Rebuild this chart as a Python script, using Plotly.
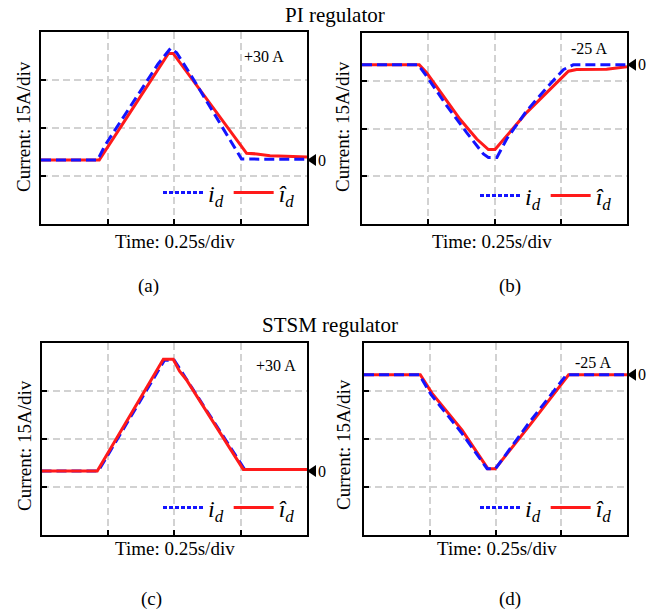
import plotly.graph_objects as go

# ---------------- data: time in s, current in A ----------------
# (a) PI regulator, +30 A step
pi_pos_t_id = [0, 0.213, 0.24, 0.44, 0.487, 0.50, 0.51, 0.56, 0.65, 0.754, 1.0]
pi_pos_id = [0, 0, 4.5, 30.0, 34.9, 34.0, 33.5, 27.0, 14.5, 0.3, 0.2]
pi_pos_t_est = [0, 0.219, 0.337, 0.479, 0.497, 0.60, 0.673, 0.773, 0.811, 0.835, 0.861, 0.92, 1.0]
pi_pos_est = [0, 0, 15.1, 33.3, 33.3, 21.7, 13.4, 2.1, 1.9, 1.5, 1.3, 1.2, 0.9]

# (b) PI regulator, -25 A step
pi_neg_t_id = [0, 0.212, 0.244, 0.32, 0.395, 0.458, 0.477, 0.509, 0.546, 0.621, 0.697, 0.76, 0.797, 1.0]
pi_neg_id = [0, 0, -3.6, -12.9, -21.3, -28.0, -29.1, -29.1, -23.3, -14.5, -7.2, -1.5, 0, 0]
pi_neg_t_est = [0, 0.216, 0.244, 0.307, 0.37, 0.433, 0.477, 0.502, 0.558, 0.621, 0.697, 0.747, 0.779, 0.81, 0.923, 1.0]
pi_neg_est = [0, 0, -2.5, -9.8, -17.1, -23.3, -26.6, -26.6, -21.2, -15.0, -8.75, -4.6, -2.0, -1.5, -1.4, -0.6]

# (c) STSM regulator, +30 A step
st_pos_t_id = [0, 0.214, 0.463, 0.50, 0.765, 1.0]
st_pos_id = [0, 0, 34.6, 34.6, 0.5, 0.5]
st_pos_t_est = [0, 0.21, 0.459, 0.496, 0.52, 0.545, 0.76, 1.0]
st_pos_est = [0, 0, 34.9, 34.9, 31.2, 28.6, 0.5, 0.5]

# (d) STSM regulator, -25 A step
st_neg_t_id = [0, 0.21, 0.255, 0.37, 0.468, 0.50, 0.62, 0.77, 1.0]
st_neg_id = [0, 0, -6.2, -18.0, -29.3, -29.3, -15.8, 0, 0]
st_neg_t_est = [0, 0.214, 0.259, 0.373, 0.471, 0.499, 0.626, 0.778, 1.0]
st_neg_est = [0, 0, -5.8, -17.3, -29.3, -29.3, -16.2, 0, 0]

step_labels = ["+30 A", "-25 A", "+30 A", "-25 A"]
panel_tags = ["(a)", "(b)", "(c)", "(d)"]
group_titles = ["PI regulator", "STSM regulator"]
x_label = "Time: 0.25s/div"
y_label = "Current: 15A/div"
zero_label = "0"


def symbol_name(base):
    # italic current symbol with an italic subscript d
    return ('<span style="font-style:italic;font-size:24px">' + base + '</span>'
            '<sub><span style="font-style:italic;font-size:17px">d</span></sub>')


id_name = symbol_name("i")
est_name = symbol_name("î")

BLUE = "#1414ff"
RED = "#ff1a1a"
FONT = "Liberation Serif, Times New Roman, serif"
W, H = 660, 614


def px_x(p):
    return p / W


def px_y(p):
    return 1 - p / H


panels = [
    dict(tid=pi_pos_t_id, id=pi_pos_id, test=pi_pos_t_est, est=pi_pos_est,
         yr=[-20, 40], dom_x=[41, 307], dom_y=[224, 32], red_top=False,
         lab=(263.5, 56), tag=(148, 286), xl=(175, 241.7), yl=(24, 127), leg=(300, 193)),
    dict(tid=pi_neg_t_id, id=pi_neg_id, test=pi_neg_t_est, est=pi_neg_est,
         yr=[-50, 10], dom_x=[362, 627], dom_y=[224, 33], red_top=False,
         lab=(589, 48), tag=(510, 286), xl=(492, 241.7), yl=(343, 127), leg=(617, 196)),
    dict(tid=st_pos_t_id, id=st_pos_id, test=st_pos_t_est, est=st_pos_est,
         yr=[-20, 40], dom_x=[41.5, 307], dom_y=[535, 343], red_top=True,
         lab=(276, 365), tag=(151.5, 599), xl=(175, 548), yl=(24, 446), leg=(300, 508)),
    dict(tid=st_neg_t_id, id=st_neg_id, test=st_neg_t_est, est=st_neg_est,
         yr=[-50, 10], dom_x=[364, 627], dom_y=[535, 342.7], red_top=False,
         lab=(592.5, 362), tag=(510, 599), xl=(497, 548), yl=(343, 445), leg=(617, 508)),
]

fig = go.Figure()
layout = dict(
    width=W, height=H, margin=dict(l=0, r=0, t=0, b=0),
    paper_bgcolor="white", plot_bgcolor="white",
    font=dict(family=FONT, color="black", size=18),
    annotations=[], shapes=[],
)


def text_at(text, x, y, size, **kw):
    return dict(text=text, x=px_x(x), y=px_y(y), xref="paper", yref="paper",
                xanchor="center", yanchor="middle", showarrow=False,
                font=dict(size=size, family=FONT, color="black"), **kw)


for k, p in enumerate(panels):
    n = "" if k == 0 else str(k + 1)
    xa, ya = "x" + n, "y" + n
    leg = "legend" + n

    blue_tr = go.Scatter(x=p["tid"], y=p["id"], mode="lines", showlegend=False,
                         line=dict(color=BLUE, width=3, dash="10px,5px"),
                         xaxis=xa, yaxis=ya, hoverinfo="skip")
    red_tr = go.Scatter(x=p["test"], y=p["est"], mode="lines", showlegend=False,
                        line=dict(color=RED, width=3),
                        xaxis=xa, yaxis=ya, hoverinfo="skip")
    if p["red_top"]:
        fig.add_trace(blue_tr)
        fig.add_trace(red_tr)
    else:
        fig.add_trace(red_tr)
        fig.add_trace(blue_tr)

    # legend entries (short dash sample for the measured current)
    fig.add_trace(go.Scatter(x=[None], y=[None], mode="lines", name=id_name,
                             line=dict(color=BLUE, width=3, dash="4px,2px"),
                             legend=leg, xaxis=xa, yaxis=ya))
    fig.add_trace(go.Scatter(x=[None], y=[None], mode="lines", name=est_name,
                             line=dict(color=RED, width=3),
                             legend=leg, xaxis=xa, yaxis=ya))

    common = dict(showgrid=True, gridcolor="#d2d2d2", gridwidth=1.5, griddash="7px,4px",
                  ticks="inside", ticklen=5, tickwidth=1.5, tickcolor="black",
                  showticklabels=False, showline=True, linecolor="black", linewidth=2,
                  mirror=True, zeroline=False, fixedrange=True)
    layout["xaxis" + n] = dict(common, domain=[px_x(p["dom_x"][0]), px_x(p["dom_x"][1])],
                               range=[0, 1], tick0=0, dtick=0.25, anchor=ya)
    layout["yaxis" + n] = dict(common, domain=[px_y(p["dom_y"][0]), px_y(p["dom_y"][1])],
                               range=p["yr"], tick0=-5, dtick=15, anchor=xa)

    layout[leg] = dict(orientation="h", x=px_x(p["leg"][0]), y=px_y(p["leg"][1]),
                       xanchor="right", yanchor="middle", bgcolor="rgba(0,0,0,0)",
                       font=dict(size=24, family=FONT), itemwidth=40,
                       tracegroupgap=0)

    # zero-level pointer on the right edge of the frame
    layout["shapes"].append(dict(type="path", xref=xa + " domain", yref=ya,
                                 xsizemode="pixel", ysizemode="pixel",
                                 xanchor=1, yanchor=0,
                                 path="M0,0 L9,6 L9,-6 Z",
                                 fillcolor="black", line=dict(width=0), layer="above"))
    ann = layout["annotations"]
    ann.append(dict(text=zero_label, x=1, xref=xa + " domain", xanchor="left", xshift=9,
                    y=0, yref=ya, yanchor="middle", showarrow=False,
                    font=dict(size=16, family=FONT, color="black")))
    ann.append(text_at(step_labels[k], *p["lab"], 16))
    ann.append(text_at(panel_tags[k], *p["tag"], 19))
    ann.append(text_at(x_label, *p["xl"], 19))
    ann.append(text_at(y_label, *p["yl"], 19, textangle=-90))

layout["annotations"].append(text_at(group_titles[0], 335, 15, 21))
layout["annotations"].append(text_at(group_titles[1], 330, 325, 21))

fig.update_layout(**layout)
fig.write_html("out.html")
